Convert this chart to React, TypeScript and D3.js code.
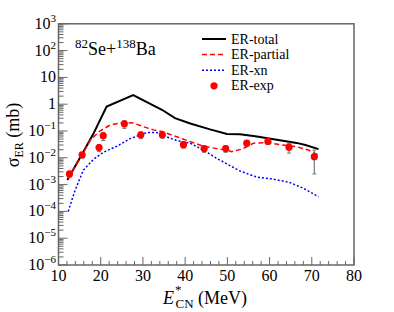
import React from 'react';
import * as d3 from 'd3';

// ER-total (solid black)
const totalE = [12.1, 15.6, 18.2, 21.4, 27.7, 34.5, 37.6, 41.2, 45.9, 49.9, 53, 57, 61.7, 66.4, 68.5, 71.6];
const totalS = [0.0015, 0.014, 0.075, 0.82, 2.2, 0.62, 0.3, 0.19, 0.115, 0.078, 0.076, 0.062, 0.047, 0.036, 0.03, 0.021];

// ER-partial (red dashed)
const partialE = [12.3, 15.6, 17.5, 19.8, 22.2, 25.4, 27.7, 30.1, 32.5, 34.8, 38, 41.2, 44.3, 47.5, 49.9, 51, 53.4, 56.2, 59.3, 62.5, 66.4, 69.2, 71.6];
const partialS = [0.0017, 0.013, 0.045, 0.1, 0.165, 0.21, 0.2, 0.145, 0.11, 0.093, 0.061, 0.04, 0.027, 0.022, 0.0195, 0.017, 0.021, 0.035, 0.037, 0.031, 0.026, 0.0195, 0.0125];

// ER-xn (blue dotted)
const xnE = [12.3, 13.9, 15.9, 17.9, 18.6, 20.6, 23.8, 27, 30.9, 33.3, 35.6, 38, 41.2, 44.3, 47.5, 49.9, 53, 57, 60.9, 64.8, 68, 71.6];
const xnS = [0.0001, 0.0006, 0.0035, 0.0075, 0.0095, 0.016, 0.027, 0.052, 0.087, 0.087, 0.061, 0.044, 0.035, 0.0195, 0.0095, 0.0059, 0.0032, 0.0019, 0.0016, 0.0012, 0.00073, 0.00035];

// ER-exp (red points with errors)
const expE = [12.6, 15.6, 19.6, 20.6, 25.6, 29.5, 34.6, 39.6, 44.5, 49.6, 54.6, 59.6, 64.6, 70.6];
const expS = [0.0025, 0.0128, 0.024, 0.066, 0.185, 0.072, 0.072, 0.031, 0.022, 0.022, 0.035, 0.041, 0.025, 0.011];
const expErr = [0.0006, 0.003, 0.007, 0.022, 0.06, 0.02, 0.018, 0.008, 0.006, 0.006, 0.008, 0.009, 0.01, 0.0085];

const xTicks = [10, 20, 30, 40, 50, 60, 70, 80];
const yExps = [3, 2, 1, 0, -1, -2, -3, -4, -5, -6];

const W = 394;
const H = 312;
const left = 58.5, right = 354, top = 23.8, bottom = 265;
const axisColor = '#666';
const ff = { fontFamily: '"Liberation Serif", "Times New Roman", serif' };

const x = d3.scaleLinear().domain([10, 80]).range([left, right]);
const y = d3.scaleLog().domain([1e-6, 1e3]).range([bottom, top]);

const line = d3.line<[number, number]>()
  .x(d => x(d[0]))
  .y(d => y(d[1]));

const zip = (a: number[], b: number[]) => a.map((v, i) => [v, b[i]] as [number, number]);

const App: React.FC = () => {
  const xMinor = d3.range(10, 80.1, 2);
  const yMinor: number[] = [];
  for (let e = -6; e < 3; e++) {
    for (let m = 2; m <= 9; m++) yMinor.push(m * Math.pow(10, e));
  }

  const supLabel = (e: number) => {
    if (e === 0) return <tspan>1</tspan>;
    if (e === 1) return <tspan>10</tspan>;
    return (
      <>
        <tspan>10</tspan>
        <tspan fontSize={11} dy={-7}>{e < 0 ? `\u2212${-e}` : `${e}`}</tspan>
      </>
    );
  };

  const legend = [
    { label: 'ER-total', type: 'total' },
    { label: 'ER-partial', type: 'partial' },
    { label: 'ER-xn', type: 'xn' },
    { label: 'ER-exp', type: 'exp' },
  ];

  return (
    <svg width={W} height={H} style={{ position: 'absolute', left: 0, top: 0, background: '#fff', ...ff }}>
      <rect x={0} y={0} width={W} height={H} fill="#fff" />

      {/* curves */}
      <path d={line(zip(totalE, totalS)) || ''} fill="none" stroke="#000" strokeWidth={2} />
      <path d={line(zip(partialE, partialS)) || ''} fill="none" stroke="#ff0000" strokeWidth={1.5} strokeDasharray="5,3" />
      <path d={line(zip(xnE, xnS)) || ''} fill="none" stroke="#0000ff" strokeWidth={1.5} strokeDasharray="2,2" />

      {/* exp points */}
      {expE.map((e, i) => {
        const lo = Math.max(expS[i] - expErr[i], 1e-6);
        const hi = expS[i] + expErr[i];
        const cx = x(e);
        return (
          <g key={i}>
            <line x1={cx} x2={cx} y1={y(lo)} y2={y(hi)} stroke="#777" strokeWidth={1.2} />
            <line x1={cx - 2} x2={cx + 2} y1={y(lo)} y2={y(lo)} stroke="#777" strokeWidth={1} />
            <line x1={cx - 2} x2={cx + 2} y1={y(hi)} y2={y(hi)} stroke="#777" strokeWidth={1} />
            <circle cx={cx} cy={y(expS[i])} r={3.6} fill="#ff0000" />
          </g>
        );
      })}

      {/* frame */}
      <rect x={left} y={top} width={right - left} height={bottom - top} fill="none" stroke={axisColor} strokeWidth={1.5} />

      {/* x ticks */}
      {xMinor.map(v => (
        <line key={'xm' + v} x1={x(v)} x2={x(v)} y1={bottom} y2={bottom - (v % 10 === 0 ? 8 : 4)} stroke={axisColor} strokeWidth={1} />
      ))}
      {xTicks.map(v => (
        <text key={'xl' + v} x={x(v)} y={281} textAnchor="middle" fontSize={16} style={ff}>{v}</text>
      ))}

      {/* y ticks */}
      {yMinor.map((v, i) => (
        <line key={'ym' + i} x1={left} x2={left + 5} y1={y(v)} y2={y(v)} stroke={axisColor} strokeWidth={1} />
      ))}
      {yExps.map(e => (
        <g key={'ye' + e}>
          <line x1={left} x2={left + 9} y1={y(Math.pow(10, e))} y2={y(Math.pow(10, e))} stroke={axisColor} strokeWidth={1} />
          <text x={56} y={y(Math.pow(10, e)) + 5} textAnchor="end" fontSize={16} style={ff}>
            {supLabel(e)}
          </text>
        </g>
      ))}

      {/* axis titles */}
      <text transform="translate(19,135) rotate(-90)" textAnchor="middle" fontSize={18} style={ff}>
        <tspan>σ</tspan>
        <tspan fontSize={12} dy={4}>ER</tspan>
        <tspan dy={-4}> (mb)</tspan>
      </text>
      <text x={163} y={304} fontSize={18} style={ff}>
        <tspan fontStyle="italic">E</tspan>
        <tspan fontSize={13} dy={-10} dx={1}>*</tspan>
        <tspan fontSize={13} dy={14} dx={-6}>CN</tspan>
        <tspan dy={-4}> (MeV)</tspan>
      </text>

      {/* reaction label */}
      <text x={75} y={55} fontSize={18} style={ff}>
        <tspan fontSize={13} dy={-7}>82</tspan>
        <tspan dy={7}>Se+</tspan>
        <tspan fontSize={13} dy={-7}>138</tspan>
        <tspan dy={7}>Ba</tspan>
      </text>

      {/* legend */}
      {legend.map((l, i) => {
        const ly = 39 + i * 15.6;
        return (
          <g key={l.label}>
            {l.type === 'total' && <line x1={202} x2={226} y1={ly} y2={ly} stroke="#000" strokeWidth={2} />}
            {l.type === 'partial' && <line x1={202} x2={226} y1={ly} y2={ly} stroke="#ff0000" strokeWidth={1.5} strokeDasharray="5,3" />}
            {l.type === 'xn' && <line x1={202} x2={226} y1={ly} y2={ly} stroke="#0000ff" strokeWidth={1.5} strokeDasharray="2,2" />}
            {l.type === 'exp' && <circle cx={214} cy={ly} r={3.6} fill="#ff0000" />}
            <text x={231} y={ly + 4.5} fontSize={14} style={ff}>{l.label}</text>
          </g>
        );
      })}
    </svg>
  );
};

export default App;
